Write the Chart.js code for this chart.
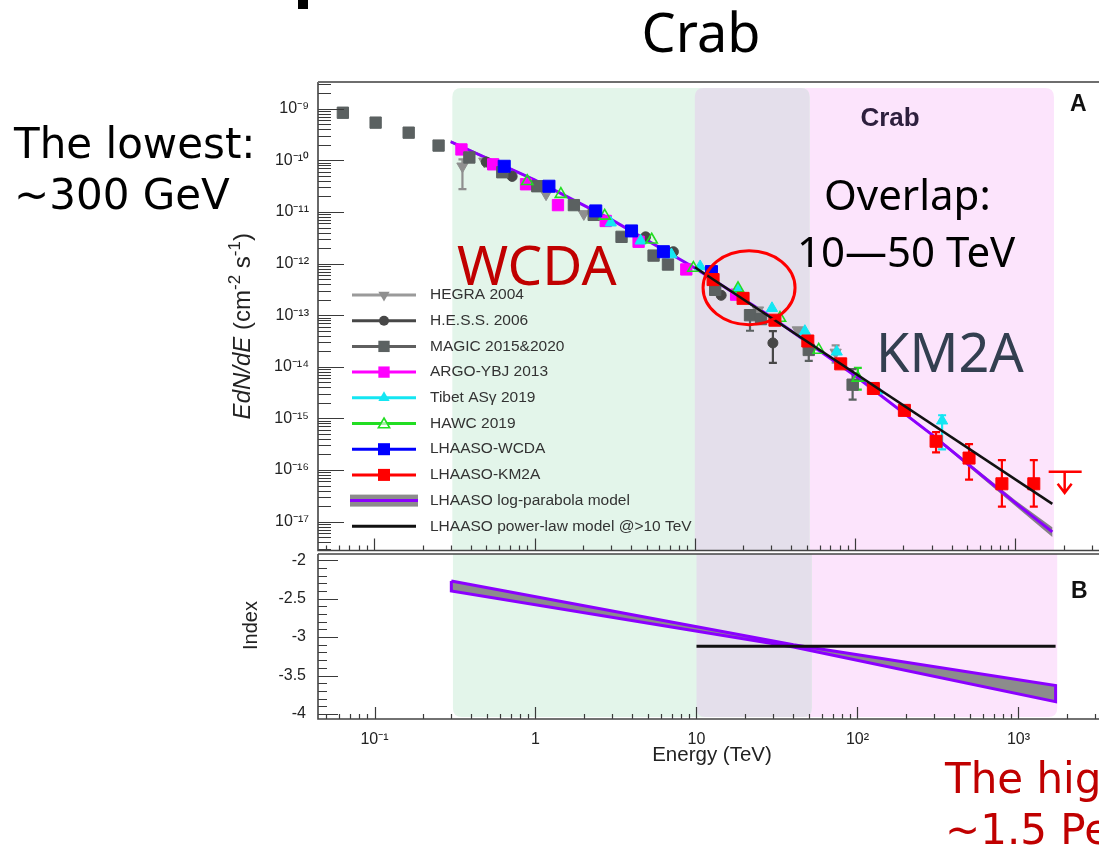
<!DOCTYPE html>
<html lang="en">
<head>
<meta charset="utf-8">
<title>Crab spectrum</title>
<script src="https://cdn.jsdelivr.net/npm/chart.js@4.4.1/dist/chart.umd.min.js"></script>
<style>
  html, body { margin: 0; padding: 0; background: #fff; overflow: hidden; }
  #page { position: relative; width: 1099px; height: 848px; overflow: hidden; }
  #page canvas { position: absolute; left: 0; }
  #cA { top: 0; }
  #cB { top: 550px; }
  .txt { position: absolute; white-space: nowrap; line-height: 1; }
  .slide { font-family: 'Noto Sans', 'Open Sans', sans-serif; }
  .verd { font-family: 'DejaVu Sans', sans-serif; font-size: 42px; line-height: 51px; }
  .lab { font-family: 'Liberation Sans', Arial, sans-serif; font-weight: bold; }
</style>
</head>
<body>
<div id="page">
  <canvas id="cA" width="1112" height="560"></canvas>
  <canvas id="cB" width="1112" height="230"></canvas>

  <div class="txt" style="left:298px;top:0;width:10px;height:9px;background:#000"></div>
  <div class="txt slide" style="left:601px;top:4px;width:200px;text-align:center;font-size:54px;color:#000">Crab</div>
  <div class="txt verd" style="left:14px;top:118px;color:#000">The lowest:<br>~300 GeV</div>
  <div class="txt slide" style="left:824px;top:173px;font-size:42px;color:#000">Overlap:</div>
  <div class="txt slide" style="left:797px;top:230px;font-size:42px;color:#000">10—50 TeV</div>
  <div class="txt slide" style="left:457px;top:236px;font-size:55px;color:#c00000">WCDA</div>
  <div class="txt slide" style="left:876px;top:324px;font-size:54px;color:#333f50">KM2A</div>
  <div class="txt verd" style="left:945px;top:753px;color:#c00000">The highest:<br>~1.5 PeV</div>
  <div class="txt lab" style="left:840px;top:104px;width:100px;text-align:center;font-size:26px;color:#2d1f3d">Crab</div>
  <div class="txt lab" style="left:1070px;top:92px;font-size:23px;color:#111">A</div>
  <div class="txt lab" style="left:1071px;top:579px;font-size:23px;color:#111">B</div>
</div>

<script>
// ---- data: energy in TeV, E dN/dE in cm^-2 s^-1 ----
const hegraE = [0.355, 0.486, 1.18, 2.03, 24.8, 43.9, 75.6];
const hegraF = [7.7e-11, 9.6e-11, 2.22e-11, 9.2e-12, 1.25e-13, 5.15e-14, 1.9e-14];
const hegraLo = [2.77e-11, null, null, null, null, null, 1.2e-14];
const hegraHi = [1.05e-10, null, null, null, null, null, 2.6e-14];

const hessE = [0.50, 0.725, 4.93, 7.35, 14.6, 30.7];
const hessF = [9.3e-11, 4.9e-11, 3.3e-12, 1.7e-12, 2.43e-13, 2.9e-14];
const hessLo = [null, null, null, null, null, 1.19e-14];
const hessHi = [null, null, null, null, null, 4.9e-14];

const magicE = [0.0637, 0.102, 0.164, 0.252, 0.392, 0.629, 1.04, 1.76, 2.34, 3.49, 5.53, 6.8, 13.4, 22.1, 25.9, 51.4, 96.5];
const magicF = [8.4e-10, 5.4e-10, 3.45e-10, 1.94e-10, 1.14e-10, 5.9e-11, 3.16e-11, 1.36e-11, 8.8e-12, 3.3e-12, 1.43e-12, 9.6e-13, 3.1e-13, 1.0e-13, 8.4e-14, 2.12e-14, 4.5e-15];
const magicLo = [null, null, null, null, null, null, null, null, null, null, null, null, null, 5.0e-14, null, 1.3e-14, 2.3e-15];
const magicHi = [null, null, null, null, null, null, null, null, null, null, null, null, null, null, null, 2.7e-14, 9.0e-15];

const argoE = [0.35, 0.552, 0.885, 1.40, 2.78, 4.46, 8.85, 18.1];
const argoF = [1.63e-10, 8.4e-11, 3.45e-11, 1.36e-11, 6.7e-12, 2.65e-12, 7.7e-13, 2.5e-13];

const tibetE = [2.99, 4.59, 7.15, 10.8, 18.6, 30.3, 48.6, 76.8, 138, 349];
const tibetF = [6.2e-12, 2.77e-12, 1.5e-12, 8.8e-13, 3.0e-13, 1.36e-13, 4.9e-14, 1.95e-14, 3.45e-15, 9.0e-16];
const tibetLo = [null, null, null, null, null, null, null, null, null, 2.5e-16];
const tibetHi = [null, null, null, null, null, null, null, null, null, 1.15e-15];

const hawcE = [0.90, 1.46, 2.74, 5.38, 9.8, 18.6, 34.0, 59.3, 104];
const hawcF = [3.95e-11, 2.22e-11, 8.4e-12, 2.9e-12, 8.2e-13, 3.3e-13, 8.8e-14, 2.12e-14, 6.1e-15];
const hawcLo = [null, null, null, null, null, null, null, null, 3.6e-15];
const hawcHi = [null, null, null, null, null, null, null, null, 9.5e-15];

const wcdaE = [0.647, 1.23, 2.41, 4.03, 6.37, 12.7];
const wcdaF = [7.7e-11, 3.16e-11, 1.05e-11, 4.3e-12, 1.7e-12, 7.0e-13];

const km2aE = [13.0, 20.0, 31.6, 50.7, 81.3, 130, 203, 320, 514, 824, 1303];
const km2aF = [4.9e-13, 2.12e-13, 8.0e-14, 3.16e-14, 1.14e-14, 3.8e-15, 1.43e-15, 3.6e-16, 1.7e-16, 5.4e-17, 5.4e-17];
const km2aLo = [null, null, null, null, null, null, null, 2.2e-16, 6.5e-17, 1.95e-17, 1.95e-17];
const km2aHi = [null, null, null, null, null, null, null, 5.4e-16, 3.16e-16, 1.55e-16, 1.55e-16];
const km2aUlE = [2030];
const km2aUlF = [9.2e-17];

// log-parabola model line and its band
const modelE = [0.3, 1, 3, 10, 30, 100, 300, 1000, 1700];
const modelF = [2.3e-10, 4.2e-11, 7.2e-12, 8.2e-13, 9.2e-14, 6.7e-15, 4.9e-16, 2.3e-17, 6.3e-18];
const modelHi = [2.45e-10, 4.4e-11, 7.4e-12, 8.3e-13, 9.3e-14, 6.9e-15, 5.2e-16, 2.6e-17, 7.8e-18];
const modelLo = [2.15e-10, 4.0e-11, 7.0e-12, 8.1e-13, 9.1e-14, 6.5e-15, 4.6e-16, 2.0e-17, 5.0e-18];

// power law above 10 TeV
const plE = [10, 1700];
const plF = [8.5e-13, 2.2e-17];

// panel B: spectral index
const idxE = [0.3, 40, 1700];
const idxHi = [-2.27, -3.10, -3.63];
const idxLo = [-2.40, -3.13, -3.84];
const idxPlE = [10, 1700];
const idxPlV = [-3.12, -3.12];

// detector ranges (drawn in this order)
const bandNames = ['KM2A', 'WCDA', 'Overlap'];
const bandFrom = [10, 0.307, 10];
const bandTo = [1740, 52, 52];
const bandColors = ['#fce4fc', '#e3f5ea', '#e4dfeb'];

// circled overlap region
const circleE = [21.8];
const circleF = [3.4e-13];

// axes
const xMin = 0.04457, xMax = 3496;
const yAMin = 2.75e-18, yAMax = 3.31e-9;
const yBMin = -4.065, yBMax = -1.92;
const xTickValues = [0.1, 1, 10, 100, 1000];
const xTickLabels = ['10⁻¹', '1', '10', '10²', '10³'];
const yATickValues = [1e-17, 1e-16, 1e-15, 1e-14, 1e-13, 1e-12, 1e-11, 1e-10, 1e-9];
const yATickLabels = ['10⁻¹⁷', '10⁻¹⁶', '10⁻¹⁵', '10⁻¹⁴', '10⁻¹³', '10⁻¹²', '10⁻¹¹', '10⁻¹⁰', '10⁻⁹'];
const yBTickValues = [-4, -3.5, -3, -2.5, -2];
const yBTickLabels = ['-4', '-3.5', '-3', '-2.5', '-2'];

const legendNames = ['HEGRA 2004', 'H.E.S.S. 2006', 'MAGIC 2015&2020', 'ARGO-YBJ 2013', 'Tibet ASγ 2019', 'HAWC 2019', 'LHAASO-WCDA', 'LHAASO-KM2A', 'LHAASO log-parabola model', 'LHAASO power-law model @>10 TeV'];
const legendKeys = ['hegra', 'hess', 'magic', 'argo', 'tibet', 'hawc', 'wcda', 'km2a', 'model', 'pl'];

// ---- styles ----
const STY = {
  hegra: { color: '#8f8f8f', line: '#9a9a9a', shape: 'triangle', rot: 180, r: 6.5 },
  hess:  { color: '#474747', line: '#474747', shape: 'circle', rot: 0, r: 5 },
  magic: { color: '#5b6161', line: '#5f5f5f', shape: 'rect', rot: 0, r: 8 },
  argo:  { color: '#ff00ff', line: '#ff00ff', shape: 'rect', rot: 0, r: 8 },
  tibet: { color: '#14e6f2', line: '#14e6f2', shape: 'triangle', rot: 0, r: 6.5 },
  hawc:  { color: '#22dd22', line: '#22dd22', shape: 'triangle', rot: 0, r: 6.5, open: true },
  wcda:  { color: '#0000ff', line: '#0000ff', shape: 'rect', rot: 0, r: 8.5 },
  km2a:  { color: '#ff0000', line: '#ff0000', shape: 'rect', rot: 0, r: 8.5 }
};
const PURPLE = '#8b00ff';
const FONT = "'Liberation Sans', Arial, sans-serif";

Chart.defaults.font.family = FONT;

function pts(xs, ys) { return xs.map((x, i) => ({ x: x, y: ys[i] })); }
function rev(a) { return a.slice().reverse(); }

function markers(key, label, xs, ys, lo, hi, order) {
  const s = STY[key];
  return {
    label: label, data: pts(xs, ys), errLo: lo, errHi: hi, order: order,
    showLine: false, pointStyle: s.shape, rotation: s.rot,
    pointRadius: s.r, pointHoverRadius: s.r,
    backgroundColor: s.open ? 'rgba(0,0,0,0)' : s.color,
    borderColor: s.color, pointBorderWidth: s.open ? 1.6 : 1
  };
}

function logMinors(fromExp, toExp) {
  const out = [];
  for (let e = fromExp; e <= toExp; e++) for (let m = 2; m <= 9; m++) out.push(m * Math.pow(10, e));
  return out;
}
const xMinor = logMinors(-2, 3);
const yAMinor = logMinors(-18, -9);
const yBMinor = [];
for (let k = -40; k <= -19; k++) if (k % 5 !== 0) yBMinor.push(k / 10);

// axis titles, drawn rotated with real superscripts
const yATitle = [
  { t: 'EdN/dE', f: 'italic 24px ' + FONT },
  { t: ' (cm', f: '24px ' + FONT },
  { t: '-2', f: '17px ' + FONT, up: 10 },
  { t: ' s', f: '24px ' + FONT },
  { t: '-1', f: '17px ' + FONT, up: 10 },
  { t: ')', f: '24px ' + FONT }
];
const yBTitle = [{ t: 'Index', f: '20px ' + FONT }];

function fixedWidth(w) {
  return s => { s.width = w; s.paddingTop = 0; s.paddingBottom = 0; };
}

function drawMarker(ctx, style, x, y, r, rot, fill, stroke, lw) {
  ctx.beginPath();
  if (style === 'rect') {
    const s = r * Math.SQRT1_2;
    ctx.rect(x - s, y - s, 2 * s, 2 * s);
  } else if (style === 'circle') {
    ctx.arc(x, y, r, 0, Math.PI * 2);
  } else {
    let a = rot * Math.PI / 180;
    ctx.moveTo(x + Math.sin(a) * r, y - Math.cos(a) * r);
    a += 2 * Math.PI / 3; ctx.lineTo(x + Math.sin(a) * r, y - Math.cos(a) * r);
    a += 2 * Math.PI / 3; ctx.lineTo(x + Math.sin(a) * r, y - Math.cos(a) * r);
    ctx.closePath();
  }
  if (fill) { ctx.fillStyle = fill; ctx.fill(); }
  if (stroke && lw) { ctx.strokeStyle = stroke; ctx.lineWidth = lw; ctx.stroke(); }
}

function roundRect(ctx, x, y, w, h, rt, rb) {
  ctx.beginPath();
  ctx.moveTo(x + rt, y);
  ctx.lineTo(x + w - rt, y);
  ctx.quadraticCurveTo(x + w, y, x + w, y + rt);
  ctx.lineTo(x + w, y + h - rb);
  ctx.quadraticCurveTo(x + w, y + h, x + w - rb, y + h);
  ctx.lineTo(x + rb, y + h);
  ctx.quadraticCurveTo(x, y + h, x, y + h - rb);
  ctx.lineTo(x, y + rt);
  ctx.quadraticCurveTo(x, y, x + rt, y);
  ctx.closePath();
}

// ---- plugins ----
const bands = {
  id: 'bands',
  beforeDatasetsDraw(chart, args, o) {
    const { ctx, chartArea: a } = chart;
    const xs = chart.scales.x;
    const top = a.top + o.topGap, bottom = a.bottom - o.bottomGap;
    ctx.save();
    bandNames.forEach((n, i) => {
      const x1 = xs.getPixelForValue(bandFrom[i]), x2 = xs.getPixelForValue(bandTo[i]);
      roundRect(ctx, x1, top, x2 - x1, bottom - top, o.roundTop, o.roundBottom);
      ctx.fillStyle = bandColors[i];
      ctx.fill();
    });
    ctx.restore();
  }
};

const errorBars = {
  id: 'errorBars',
  beforeDatasetsDraw(chart) {
    const { ctx } = chart;
    const xs = chart.scales.x, ys = chart.scales.y;
    ctx.save();
    chart.data.datasets.forEach(ds => {
      if (!ds.errLo) return;
      ctx.strokeStyle = ds.borderColor;
      ctx.lineWidth = 2.2;
      ds.data.forEach((p, i) => {
        const lo = ds.errLo[i], hi = ds.errHi[i];
        if (lo == null && hi == null) return;
        const px = xs.getPixelForValue(p.x);
        const y1 = ys.getPixelForValue(hi != null ? hi : p.y);
        const y2 = ys.getPixelForValue(lo != null ? lo : p.y);
        ctx.beginPath();
        ctx.moveTo(px, y1); ctx.lineTo(px, y2);
        if (hi != null) { ctx.moveTo(px - 4, y1); ctx.lineTo(px + 4, y1); }
        if (lo != null) { ctx.moveTo(px - 4, y2); ctx.lineTo(px + 4, y2); }
        ctx.stroke();
      });
    });
    ctx.restore();
  }
};

const extrasA = {
  id: 'extrasA',
  afterDatasetsDraw(chart) {
    const { ctx, chartArea: a } = chart;
    const xs = chart.scales.x, ys = chart.scales.y;
    ctx.save();

    // red circle round the overlap
    ctx.strokeStyle = '#ff0000';
    ctx.lineWidth = 3;
    ctx.beginPath();
    ctx.ellipse(xs.getPixelForValue(circleE[0]), ys.getPixelForValue(circleF[0]), 46, 37, 0, 0, Math.PI * 2);
    ctx.stroke();

    // KM2A upper limit
    km2aUlE.forEach((e, i) => {
      const px = xs.getPixelForValue(e), py = ys.getPixelForValue(km2aUlF[i]);
      ctx.strokeStyle = '#ff0000';
      ctx.lineWidth = 2.5;
      ctx.beginPath();
      ctx.moveTo(px - 16, py); ctx.lineTo(px + 17, py);
      ctx.moveTo(px, py); ctx.lineTo(px, py + 21);
      ctx.moveTo(px - 7, py + 12); ctx.lineTo(px, py + 21); ctx.lineTo(px + 7, py + 12);
      ctx.stroke();
    });

    // legend
    const x1 = a.left + 34, x2 = a.left + 98, xm = (x1 + x2) / 2, tx = a.left + 112;
    ctx.font = '15.5px ' + FONT;
    ctx.textBaseline = 'middle';
    legendNames.forEach((name, i) => {
      const y = a.top + 213 + i * 25.7;
      const key = legendKeys[i];
      if (STY[key]) {
        const s = STY[key];
        ctx.strokeStyle = s.line; ctx.lineWidth = 3;
        ctx.beginPath(); ctx.moveTo(x1, y); ctx.lineTo(x2, y); ctx.stroke();
        if (s.open) drawMarker(ctx, s.shape, xm, y + 1, s.r, s.rot, 'rgba(255,255,255,0.6)', s.color, 1.6);
        else drawMarker(ctx, s.shape, xm, y, s.r, s.rot, s.color, null, 0);
      } else if (key === 'model') {
        ctx.fillStyle = '#8c8c8c';
        ctx.fillRect(x1 - 2, y - 6, x2 - x1 + 4, 12);
        ctx.strokeStyle = PURPLE; ctx.lineWidth = 3;
        ctx.beginPath(); ctx.moveTo(x1 - 2, y); ctx.lineTo(x2 + 2, y); ctx.stroke();
      } else {
        ctx.strokeStyle = '#111'; ctx.lineWidth = 3;
        ctx.beginPath(); ctx.moveTo(x1, y); ctx.lineTo(x2, y); ctx.stroke();
      }
      ctx.fillStyle = '#333';
      ctx.fillText(name, tx, y);
    });
    ctx.restore();
  }
};

const frame = {
  id: 'frame',
  afterDraw(chart, args, o) {
    const { ctx, chartArea: a } = chart;
    const xs = chart.scales.x, ys = chart.scales.y;
    const inX = v => v >= xs.min && v <= xs.max;
    const inY = v => v >= ys.min && v <= ys.max;
    ctx.save();
    ctx.strokeStyle = '#3a3a3a';
    ctx.lineWidth = 1.2;
    ctx.beginPath();
    xMinor.filter(inX).forEach(v => {
      const p = Math.round(xs.getPixelForValue(v)) + 0.5;
      ctx.moveTo(p, a.bottom); ctx.lineTo(p, a.bottom - 5);
    });
    xTickValues.filter(inX).forEach(v => {
      const p = Math.round(xs.getPixelForValue(v)) + 0.5;
      ctx.moveTo(p, a.bottom); ctx.lineTo(p, a.bottom - 12);
    });
    o.yMinor.filter(inY).forEach(v => {
      const p = Math.round(ys.getPixelForValue(v)) + 0.5;
      ctx.moveTo(a.left, p); ctx.lineTo(a.left + o.yMinorLen, p);
    });
    o.yMajor.filter(inY).forEach(v => {
      const p = Math.round(ys.getPixelForValue(v)) + 0.5;
      ctx.moveTo(a.left, p); ctx.lineTo(a.left + o.yMajorLen, p);
    });
    ctx.stroke();

    ctx.strokeStyle = '#444';
    ctx.lineWidth = 1.6;
    ctx.beginPath();
    ctx.moveTo(a.left, a.top); ctx.lineTo(a.left, a.bottom);
    ctx.lineTo(a.right, a.bottom); ctx.lineTo(a.right, a.top);
    ctx.stroke();
    ctx.strokeStyle = o.topColor;
    ctx.lineWidth = o.topWidth;
    ctx.beginPath(); ctx.moveTo(a.left, a.top); ctx.lineTo(a.right, a.top); ctx.stroke();

    // rotated y title
    const segs = o.title;
    let total = 0;
    segs.forEach(s => { ctx.font = s.f; total += ctx.measureText(s.t).width; });
    ctx.translate(a.left - o.titleGap, (a.top + a.bottom) / 2 + o.titleShift);
    ctx.rotate(-Math.PI / 2);
    ctx.fillStyle = '#222';
    ctx.textBaseline = 'alphabetic';
    let cx = -total / 2;
    segs.forEach(s => {
      ctx.font = s.f;
      ctx.fillText(s.t, cx, -(s.up || 0));
      cx += ctx.measureText(s.t).width;
    });
    ctx.restore();
  }
};

// ---- panel A: spectrum ----
const datasetsA = [
  { label: 'LHAASO power-law model @>10 TeV', data: pts(plE, plF), showLine: true, borderColor: '#111', borderWidth: 2.5, pointRadius: 0, order: 0 },
  markers('km2a', 'LHAASO-KM2A', km2aE, km2aF, km2aLo, km2aHi, 1),
  markers('wcda', 'LHAASO-WCDA', wcdaE, wcdaF, null, null, 2),
  markers('hawc', 'HAWC 2019', hawcE, hawcF, hawcLo, hawcHi, 3),
  markers('tibet', 'Tibet ASγ 2019', tibetE, tibetF, tibetLo, tibetHi, 4),
  markers('argo', 'ARGO-YBJ 2013', argoE, argoF, null, null, 6),
  markers('magic', 'MAGIC 2015&2020', magicE, magicF, magicLo, magicHi, 5),
  markers('hess', 'H.E.S.S. 2006', hessE, hessF, hessLo, hessHi, 7),
  markers('hegra', 'HEGRA 2004', hegraE, hegraF, hegraLo, hegraHi, 8),
  { label: 'LHAASO log-parabola model', data: pts(modelE, modelF), showLine: true, borderColor: PURPLE, borderWidth: 3, pointRadius: 0, order: 9 },
  { label: 'log-parabola band', data: pts(modelE, modelHi).concat(pts(rev(modelE), rev(modelLo))), showLine: true, fill: 'shape', backgroundColor: 'rgba(105,105,105,0.8)', borderColor: 'rgba(0,0,0,0)', borderWidth: 0, pointRadius: 0, order: 10 }
];

new Chart(document.getElementById('cA'), {
  type: 'scatter',
  data: { datasets: datasetsA },
  options: {
    animation: false, responsive: false, devicePixelRatio: 1,
    layout: { padding: { left: 226, top: 82, right: 6, bottom: 6 } },
    plugins: {
      legend: { display: false }, tooltip: { enabled: false },
      bands: { topGap: 6, bottomGap: 0, roundTop: 9, roundBottom: 0 },
      frame: { yMajor: yATickValues, yMinor: yAMinor, yMajorLen: 26, yMinorLen: 13, topColor: '#6e6e6e', topWidth: 2.2,
               title: yATitle, titleGap: 68, titleShift: 10 }
    },
    scales: {
      x: { type: 'logarithmic', min: xMin, max: xMax, display: false },
      y: {
        type: 'logarithmic', min: yAMin, max: yAMax,
        afterFit: fixedWidth(92),
        afterBuildTicks: s => { s.ticks = yATickValues.map(v => ({ value: v })); },
        grid: { display: false, drawTicks: false }, border: { display: false },
        ticks: { padding: 9, color: '#222', font: { size: 16 }, autoSkip: false, callback: (v, i) => yATickLabels[i] },
        title: { display: false }
      }
    }
  },
  plugins: [bands, errorBars, extrasA, frame]
});

// ---- panel B: index ----
new Chart(document.getElementById('cB'), {
  type: 'scatter',
  data: {
    datasets: [
      { label: 'power-law index', data: pts(idxPlE, idxPlV), showLine: true, borderColor: '#111', borderWidth: 3, pointRadius: 0, order: 0 },
      { label: 'log-parabola index', data: pts(idxE, idxHi).concat(pts(rev(idxE), rev(idxLo)), pts(idxE.slice(0, 1), idxHi.slice(0, 1))), showLine: true, fill: 'shape', backgroundColor: '#8c8c8c', borderColor: PURPLE, borderWidth: 3, pointRadius: 0, order: 1 }
    ]
  },
  options: {
    animation: false, responsive: false, devicePixelRatio: 1,
    layout: { padding: { left: 226, top: 4, right: 6, bottom: 0 } },
    plugins: {
      legend: { display: false }, tooltip: { enabled: false },
      bands: { topGap: 0, bottomGap: 2, roundTop: 0, roundBottom: 9 },
      frame: { yMajor: yBTickValues, yMinor: yBMinor, yMajorLen: 20, yMinorLen: 9, topColor: '#444', topWidth: 1.6,
               title: yBTitle, titleGap: 61, titleShift: -11 }
    },
    scales: {
      x: {
        type: 'logarithmic', min: xMin, max: xMax,
        afterFit: s => { s.height = 61; },
        afterBuildTicks: s => { s.ticks = xTickValues.map(v => ({ value: v })); },
        grid: { display: false, drawTicks: false }, border: { display: false },
        ticks: { padding: 11, color: '#222', font: { size: 16 }, autoSkip: false, maxRotation: 0, callback: (v, i) => xTickLabels[i] },
        title: { display: true, text: 'Energy (TeV)', color: '#222', font: { size: 20.5 }, padding: { top: 0, bottom: 12 } }
      },
      y: {
        min: yBMin, max: yBMax,
        afterFit: fixedWidth(92),
        afterBuildTicks: s => { s.ticks = yBTickValues.map(v => ({ value: v })); },
        grid: { display: false, drawTicks: false }, border: { display: false },
        ticks: { padding: 12, color: '#222', font: { size: 16 }, autoSkip: false, callback: (v, i) => yBTickLabels[i] },
        title: { display: false }
      }
    }
  },
  plugins: [bands, frame]
});
</script>
</body>
</html>
